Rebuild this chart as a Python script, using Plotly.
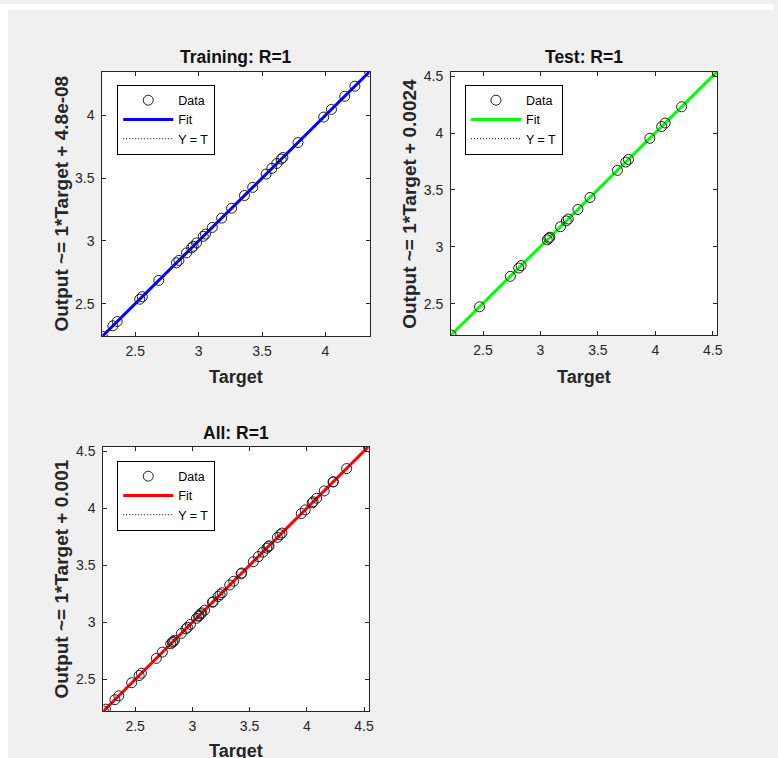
import numpy as np
import plotly.graph_objects as go

# ---------------- data ----------------
train_target = [2.240, 2.323, 2.357, 2.535, 2.555, 2.685, 2.825, 2.844, 2.904, 2.944,
                2.957, 2.983, 3.036, 3.054, 3.107, 3.181, 3.260, 3.361, 3.426, 3.532,
                3.577, 3.616, 3.651, 3.664, 3.783, 3.986, 4.047, 4.152, 4.232, 4.348]
train_output = [2.240, 2.323, 2.357, 2.535, 2.555, 2.685, 2.825, 2.844, 2.904, 2.944,
                2.957, 2.983, 3.036, 3.054, 3.107, 3.181, 3.260, 3.361, 3.426, 3.532,
                3.577, 3.616, 3.651, 3.664, 3.783, 3.986, 4.047, 4.152, 4.232, 4.348]

test_target = [2.222, 2.470, 2.738, 2.811, 2.832, 3.059, 3.073, 3.082, 3.175, 3.225,
               3.242, 3.326, 3.431, 3.670, 3.743, 3.766, 3.952, 4.055, 4.086, 4.229, 4.538]
test_output = [2.224, 2.472, 2.740, 2.813, 2.834, 3.061, 3.075, 3.084, 3.177, 3.227,
               3.244, 3.328, 3.433, 3.672, 3.745, 3.768, 3.954, 4.057, 4.088, 4.231, 4.540]

all_target = train_target + test_target
all_output = train_output + test_output

titles = ["Training: R=1", "Test: R=1", "All: R=1"]
ylabels = ["Output ~= 1*Target + 4.8e-08", "Output ~= 1*Target + 0.0024",
           "Output ~= 1*Target + 0.001"]
fit_colors = ["#0000ff", "#00ff00", "#ff0000"]
tick_vals = [2.5, 3, 3.5, 4, 4.5]
tick_text = ["2.5", "3", "3.5", "4", "4.5"]

# ---------------- layout helpers ----------------
W, H = 778, 758
FONT = "Liberation Sans, Arial, sans-serif"
AX_COLOR = "#262626"


def px_x(p):
    return p / W


def px_y(p):
    return 1 - p / H


panels = [
    dict(t=train_target, o=train_output, xd=(103, 372), yd=(68, 334),
         leg=(118, 81), ylab_x=62, title_y=53, xlab_y=375),
    dict(t=test_target, o=test_output, xd=(454, 722), yd=(68, 333),
         leg=(468, 81), ylab_x=412, title_y=53, xlab_y=375),
    dict(t=all_target, o=all_output, xd=(104, 371), yd=(445, 711),
         leg=(118, 459), ylab_x=62, title_y=431, xlab_y=751),
]

fig = go.Figure()
annotations = []
layout_axes = {}

for i, p in enumerate(panels):
    n = "" if i == 0 else str(i + 1)
    xa, ya = "x" + n, "y" + n
    legname = "legend" + n
    t = np.array(p["t"])
    o = np.array(p["o"])
    lo = float(min(t.min(), o.min()))
    hi = float(max(t.max(), o.max()))
    m, b = np.polyfit(t, o, 1)
    line_x = [lo, hi]

    fig.add_trace(go.Scatter(x=line_x, y=line_x, mode="lines", name="Y = T",
                             line=dict(color="black", width=1, dash="1px,2px"),
                             xaxis=xa, yaxis=ya, legend=legname, legendrank=3,
                             hoverinfo="skip"))
    fig.add_trace(go.Scatter(x=line_x, y=[m * v + b for v in line_x], mode="lines",
                             name="Fit", line=dict(color=fit_colors[i], width=3),
                             xaxis=xa, yaxis=ya, legend=legname, legendrank=2))
    fig.add_trace(go.Scatter(x=t, y=o, mode="markers", name="Data",
                             marker=dict(symbol="circle-open", size=10, color="#1e1e1e",
                                         line=dict(width=1)),
                             xaxis=xa, yaxis=ya, legend=legname, legendrank=1))

    common = dict(range=[lo, hi], tickvals=tick_vals, ticktext=tick_text,
                  ticks="inside", ticklen=4, tickcolor=AX_COLOR, showline=True,
                  linecolor=AX_COLOR, linewidth=1, mirror="ticks", showgrid=False,
                  zeroline=False, tickfont=dict(family=FONT, size=14, color=AX_COLOR))
    layout_axes["xaxis" + n] = dict(common, domain=[px_x(p["xd"][0]), px_x(p["xd"][1])],
                                    anchor=ya, ticklabelstandoff=2)
    layout_axes["yaxis" + n] = dict(common, domain=[px_y(p["yd"][1]), px_y(p["yd"][0])],
                                    anchor=xa, ticklabelstandoff=4)
    layout_axes[legname] = dict(x=px_x(p["leg"][0]), y=px_y(p["leg"][1]),
                                xanchor="left", yanchor="top", bgcolor="white",
                                bordercolor="black", borderwidth=1, itemwidth=50,
                                tracegroupgap=0,
                                font=dict(family=FONT, size=12.5, color="black"))

    cx = (p["xd"][0] + p["xd"][1]) / 2
    cy = (p["yd"][0] + p["yd"][1]) / 2
    annotations.append(dict(text="<b>" + titles[i] + "</b>", x=px_x(cx), y=px_y(p["title_y"]),
                            xref="paper", yref="paper", showarrow=False,
                            xanchor="center", yanchor="middle",
                            font=dict(family=FONT, size=17.5, color="#111")))
    annotations.append(dict(text="<b>Target</b>", x=px_x(cx), y=px_y(p["xlab_y"]),
                            xref="paper", yref="paper", showarrow=False,
                            xanchor="center", yanchor="middle",
                            font=dict(family=FONT, size=18, color="#262626")))
    annotations.append(dict(text="<b>" + ylabels[i] + "</b>", x=px_x(p["ylab_x"]),
                            y=px_y(cy), xref="paper", yref="paper", showarrow=False,
                            textangle=-90, xanchor="center", yanchor="middle",
                            font=dict(family=FONT, size=19, color="#262626")))

fig.update_layout(
    width=W, height=H,
    margin=dict(l=0, r=0, t=0, b=0),
    paper_bgcolor="#f0f0f0",
    plot_bgcolor="white",
    showlegend=True,
    annotations=annotations,
    shapes=[
        dict(type="rect", xref="paper", yref="paper", x0=0, x1=px_x(8), y0=0, y1=1,
             fillcolor="white", line=dict(width=0), layer="below"),
        dict(type="rect", xref="paper", yref="paper", x0=0, x1=1, y0=px_y(6), y1=1,
             fillcolor="white", line=dict(width=0), layer="below"),
    ],
    **layout_axes,
)

fig.write_html(
    "out.html",
    config={"displayModeBar": False},
    post_script="document.body.style.margin='0px';document.body.style.overflow='hidden';",
)
